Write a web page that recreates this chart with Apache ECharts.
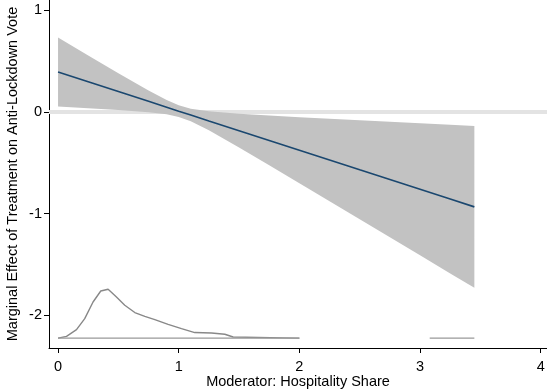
<!DOCTYPE html>
<html>
<head>
<meta charset="utf-8">
<script src="https://cdn.jsdelivr.net/npm/echarts@6/dist/echarts.min.js"></script>
<style>
  html, body { margin: 0; padding: 0; background: #fff; }
  #chart { width: 547px; height: 392px; }
</style>
</head>
<body>
<div id="chart"></div>
<script>
// Moderator grid where the marginal effect is evaluated
const moderator = [0, 0.25, 0.5, 0.75, 0.9, 1.0, 1.1, 1.25, 1.5, 1.75, 2.0, 2.25, 2.5, 2.75, 3.0, 3.25, 3.45];
// Marginal effect estimate
const effect = [0.394, 0.298, 0.202, 0.106, 0.048, 0.009, -0.029, -0.087, -0.183, -0.279, -0.375, -0.471, -0.568, -0.664, -0.760, -0.856, -0.933];
// 95% confidence bounds
const upperCI = [0.734, 0.558, 0.383, 0.212, 0.118, 0.067, 0.033, 0.007, -0.017, -0.034, -0.050, -0.065, -0.081, -0.095, -0.110, -0.124, -0.136];
const lowerCI = [0.054, 0.038, 0.021, -0.001, -0.022, -0.048, -0.091, -0.180, -0.349, -0.524, -0.700, -0.877, -1.055, -1.233, -1.410, -1.588, -1.730];

// Kernel density of the moderator, drawn on the bottom of the plot
const densityX = [0, 0.07, 0.153, 0.221, 0.29, 0.354, 0.415, 0.484, 0.553, 0.636, 0.719, 0.802, 0.912, 1.023, 1.133, 1.272, 1.382, 1.451, 1.863, 2.0];
const densityY = [-2.225, -2.207, -2.141, -2.033, -1.869, -1.761, -1.744, -1.82, -1.901, -1.973, -2.01, -2.042, -2.089, -2.131, -2.17, -2.174, -2.187, -2.214, -2.222, -2.225];
// Density baseline segments
const baselineX = [0, 2.0, null, 3.08, 3.45];
const baselineY = [-2.225, -2.225, null, -2.225, -2.225];

const xTicks = [0, 1, 2, 3, 4];
const yTicks = [-2, -1, 0, 1];

const pairs = (xs, ys) => xs.map((x, i) => (x === null ? null : [x, ys[i]]));

const chart = echarts.init(document.getElementById('chart'), null, { renderer: 'canvas' });

const textFont = { fontFamily: 'Liberation Sans, Arial, sans-serif', fontSize: 14.5, color: '#000' };

chart.setOption({
  animation: false,
  backgroundColor: '#fff',
  grid: { left: 49, right: 0, top: 0, bottom: 44, containLabel: false, outerBoundsMode: 'none' },
  xAxis: {
    type: 'value',
    min: -0.075,
    max: 4.052,
    name: 'Moderator: Hospitality Share',
    nameLocation: 'middle',
    nameGap: 26,
    nameMoveOverlap: false,
    nameTextStyle: textFont,
    axisLine: { show: true, onZero: false, lineStyle: { color: '#000', width: 1 } },
    axisTick: { show: true, length: 5, customValues: xTicks, lineStyle: { color: '#000' } },
    axisLabel: { ...textFont, margin: 11, customValues: xTicks },
    splitLine: { show: false }
  },
  yAxis: {
    type: 'value',
    min: -2.322,
    max: 1.103,
    name: 'Marginal Effect of Treatment on Anti-Lockdown Vote',
    nameLocation: 'middle',
    nameGap: 29,
    nameMoveOverlap: false,
    nameTextStyle: textFont,
    axisLine: { show: true, onZero: false, lineStyle: { color: '#000', width: 1 } },
    axisTick: { show: true, length: 5, customValues: yTicks, lineStyle: { color: '#000' } },
    axisLabel: { ...textFont, margin: 7, customValues: yTicks },
    splitLine: { show: false }
  },
  series: [
    {
      // reference line at zero
      type: 'line',
      data: [[-0.075, 0], [4.052, 0]],
      symbol: 'none',
      silent: true,
      z: 1,
      lineStyle: { color: '#e3e3e3', width: 4 }
    },
    {
      // confidence band
      type: 'custom',
      z: 2,
      silent: true,
      data: [0],
      renderItem: function (params, api) {
        const pts = [];
        for (let i = 0; i < moderator.length; i++) pts.push(api.coord([moderator[i], upperCI[i]]));
        for (let i = moderator.length - 1; i >= 0; i--) pts.push(api.coord([moderator[i], lowerCI[i]]));
        return {
          type: 'polygon',
          shape: { points: pts, smooth: 0 },
          style: { fill: '#c2c2c2', stroke: null }
        };
      }
    },
    {
      // marginal effect
      type: 'line',
      data: pairs(moderator, effect),
      symbol: 'none',
      z: 3,
      lineStyle: { color: '#1a476f', width: 1.6 }
    },
    {
      type: 'line',
      data: pairs(densityX, densityY),
      symbol: 'none',
      z: 3,
      lineStyle: { color: '#888', width: 1.4 }
    },
    {
      type: 'line',
      data: pairs(baselineX, baselineY),
      symbol: 'none',
      connectNulls: false,
      z: 3,
      lineStyle: { color: '#999', width: 1.4 }
    }
  ]
});
</script>
</body>
</html>
